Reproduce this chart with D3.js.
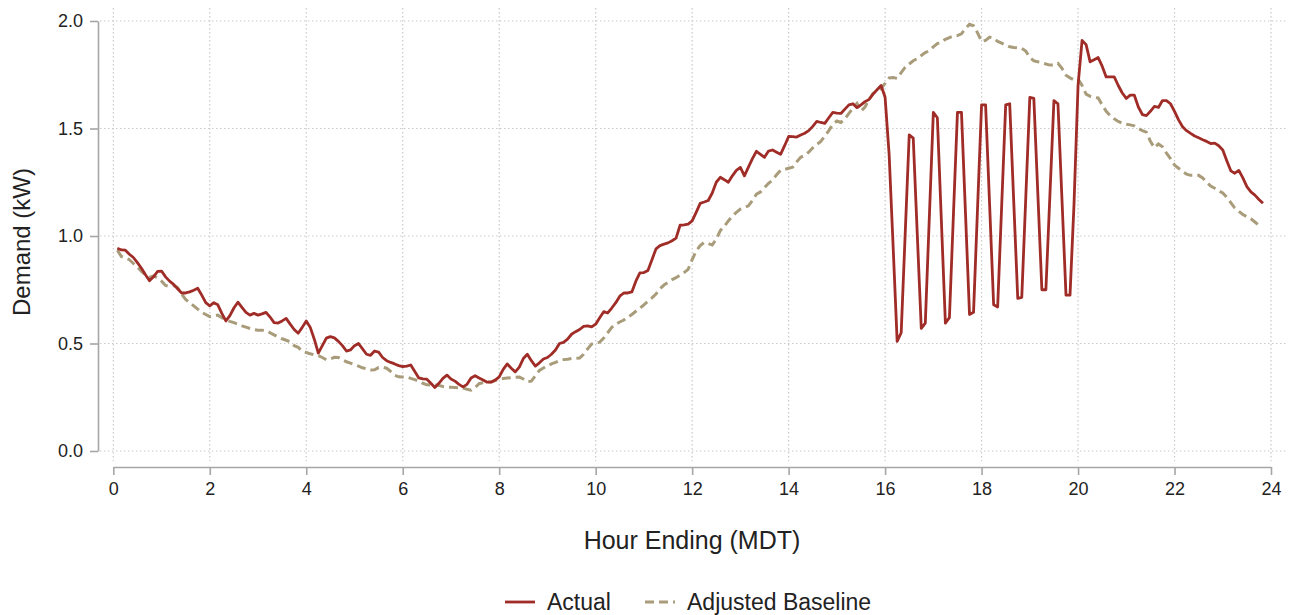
<!DOCTYPE html>
<html>
<head>
<meta charset="utf-8">
<script src="https://cdn.jsdelivr.net/npm/d3@7.9.0/dist/d3.min.js"></script>
<style>
  body { margin: 0; background: #fff; }
  svg text { font-family: "Liberation Sans", Arial, sans-serif; fill: #222; }
</style>
</head>
<body>
<svg id="chart" width="1291" height="615"></svg>
<script>
// 5-minute interval readings, hour ending 00:05 onwards (one row per hour)
const actual = [
  0.943, 0.935, 0.934, 0.915, 0.90, 0.876, 0.85, 0.82, 0.792, 0.81, 0.835, 0.837,
  0.81, 0.79, 0.775, 0.755, 0.735, 0.735, 0.74, 0.748, 0.757, 0.725, 0.69, 0.675,
  0.69, 0.68, 0.64, 0.605, 0.63, 0.665, 0.692, 0.668, 0.645, 0.632, 0.64, 0.632,
  0.638, 0.645, 0.623, 0.597, 0.595, 0.605, 0.617, 0.59, 0.565, 0.548, 0.575, 0.605,
  0.575, 0.52, 0.455, 0.49, 0.525, 0.532, 0.526, 0.51, 0.49, 0.465, 0.47, 0.49,
  0.50, 0.475, 0.45, 0.445, 0.465, 0.46, 0.435, 0.42, 0.412, 0.405, 0.397, 0.392,
  0.395, 0.40, 0.37, 0.34, 0.335, 0.334, 0.315, 0.295, 0.315, 0.338, 0.353, 0.335,
  0.325, 0.31, 0.298, 0.31, 0.34, 0.35, 0.34, 0.33, 0.32, 0.32, 0.33, 0.345,
  0.38, 0.405, 0.385, 0.368, 0.39, 0.43, 0.45, 0.42, 0.395, 0.41, 0.428, 0.435,
  0.45, 0.47, 0.50, 0.505, 0.52, 0.543, 0.555, 0.565, 0.58, 0.582, 0.577, 0.59,
  0.62, 0.648, 0.642, 0.665, 0.69, 0.72, 0.735, 0.735, 0.74, 0.79, 0.828, 0.83,
  0.84, 0.89, 0.94, 0.955, 0.962, 0.968, 0.978, 0.99, 1.05, 1.052, 1.055, 1.07,
  1.11, 1.152, 1.158, 1.165, 1.20, 1.25, 1.273, 1.262, 1.25, 1.28, 1.305, 1.319,
  1.28, 1.32, 1.36, 1.394, 1.38, 1.366, 1.395, 1.40, 1.39, 1.38, 1.42, 1.463,
  1.462, 1.46, 1.47, 1.478, 1.49, 1.51, 1.533, 1.528, 1.524, 1.55, 1.575, 1.572,
  1.57, 1.59, 1.61, 1.615, 1.597, 1.61, 1.625, 1.635, 1.66, 1.68, 1.70, 1.645,
  1.38, 0.95, 0.51, 0.55, 1.01, 1.47, 1.455, 1.01, 0.57, 0.595, 1.085, 1.575,
  1.55, 1.07, 0.595, 0.62, 1.10, 1.575, 1.575, 1.105, 0.635, 0.645, 1.13, 1.61,
  1.61, 1.145, 0.68, 0.67, 1.14, 1.61, 1.615, 1.16, 0.71, 0.715, 1.18, 1.645,
  1.64, 1.195, 0.75, 0.75, 1.19, 1.63, 1.615, 1.17, 0.725, 0.725, 1.15, 1.70,
  1.91, 1.89, 1.81, 1.82, 1.83, 1.79, 1.74, 1.74, 1.74, 1.70, 1.665, 1.64,
  1.655, 1.655, 1.60, 1.565, 1.56, 1.58, 1.603, 1.598, 1.63, 1.63, 1.615, 1.58,
  1.54, 1.508, 1.49, 1.477, 1.465, 1.457, 1.448, 1.44, 1.43, 1.432, 1.42, 1.40,
  1.35, 1.303, 1.292, 1.305, 1.27, 1.23, 1.205, 1.19, 1.17, 1.152
];

const baseline = [
  0.934, 0.905, 0.898, 0.89, 0.872, 0.855, 0.835, 0.82, 0.808, 0.815, 0.805, 0.79,
  0.77, 0.765, 0.77, 0.76, 0.73, 0.705, 0.69, 0.675, 0.66, 0.645, 0.635, 0.625,
  0.628, 0.632, 0.62, 0.61, 0.603, 0.597, 0.59, 0.582, 0.576, 0.57, 0.565, 0.562,
  0.562, 0.56, 0.55, 0.54, 0.53, 0.522, 0.515, 0.508, 0.49, 0.482, 0.465, 0.458,
  0.452, 0.447, 0.444, 0.435, 0.424, 0.428, 0.436, 0.435, 0.425, 0.415, 0.409, 0.402,
  0.395, 0.387, 0.382, 0.377, 0.378, 0.388, 0.39, 0.385, 0.37, 0.352, 0.345, 0.344,
  0.344, 0.338, 0.332, 0.325, 0.315, 0.308, 0.307, 0.307, 0.305, 0.30, 0.297, 0.296,
  0.295, 0.294, 0.293, 0.287, 0.283, 0.295, 0.313, 0.318, 0.32, 0.322, 0.328, 0.333,
  0.337, 0.339, 0.341, 0.343, 0.344, 0.335, 0.322, 0.325, 0.35, 0.375, 0.386, 0.397,
  0.405, 0.412, 0.42, 0.425, 0.427, 0.43, 0.431, 0.432, 0.45, 0.475, 0.497, 0.503,
  0.506, 0.525, 0.55, 0.575, 0.59, 0.60, 0.609, 0.623, 0.635, 0.65, 0.664, 0.68,
  0.697, 0.712, 0.73, 0.755, 0.772, 0.785, 0.797, 0.806, 0.818, 0.83, 0.845, 0.89,
  0.93, 0.955, 0.97, 0.965, 0.958, 0.985, 1.025, 1.045, 1.07, 1.093, 1.11, 1.125,
  1.132, 1.14, 1.165, 1.195, 1.205, 1.225, 1.245, 1.26, 1.285, 1.305, 1.31, 1.315,
  1.32, 1.345, 1.366, 1.375, 1.39, 1.41, 1.425, 1.44, 1.465, 1.49, 1.52, 1.535,
  1.528, 1.545, 1.57, 1.595, 1.617, 1.58, 1.60, 1.635, 1.663, 1.675, 1.686, 1.71,
  1.735, 1.737, 1.733, 1.76, 1.785, 1.80, 1.815, 1.825, 1.84, 1.853, 1.862, 1.88,
  1.895, 1.903, 1.915, 1.923, 1.93, 1.932, 1.94, 1.965, 1.985, 1.978, 1.945, 1.905,
  1.91, 1.925, 1.92, 1.905, 1.897, 1.887, 1.88, 1.877, 1.875, 1.872, 1.86, 1.83,
  1.815, 1.81, 1.807, 1.80, 1.795, 1.795, 1.803, 1.78, 1.748, 1.735, 1.726, 1.73,
  1.70, 1.66, 1.65, 1.645, 1.642, 1.61, 1.58, 1.56, 1.545, 1.533, 1.525, 1.52,
  1.517, 1.512, 1.50, 1.49, 1.483, 1.44, 1.41, 1.428, 1.415, 1.385, 1.36, 1.33,
  1.315, 1.30, 1.288, 1.282, 1.282, 1.282, 1.27, 1.25, 1.232, 1.222, 1.21, 1.20,
  1.18, 1.155, 1.13, 1.115, 1.10, 1.09, 1.08, 1.065, 1.05
];

const xTicks = [0, 2, 4, 6, 8, 10, 12, 14, 16, 18, 20, 22, 24];
const yTicks = [0, 0.5, 1.0, 1.5, 2.0];
const seriesNames = ['Actual', 'Adjusted Baseline'];
const xTitle = 'Hour Ending (MDT)';
const yTitle = 'Demand (kW)';
const stepHours = 5 / 60;

const svg = d3.select('#chart');

const x = d3.scaleLinear().domain([0, 24]).range([113.3, 1271]);
const y = d3.scaleLinear().domain([0, 2]).range([451, 21]);

// dotted grid
const grid = svg.append('g').attr('stroke', '#c9c9c9').attr('stroke-width', 1.2)
  .attr('stroke-dasharray', '1.4,2.6');
grid.selectAll('line.v').data(xTicks).join('line')
  .attr('class', 'v')
  .attr('x1', (d) => x(d)).attr('x2', (d) => x(d))
  .attr('y1', 8).attr('y2', 461);
grid.selectAll('line.h').data(yTicks).join('line')
  .attr('class', 'h')
  .attr('x1', 100).attr('x2', 1286)
  .attr('y1', (d) => y(d)).attr('y2', (d) => y(d));

// axes
const xAxis = svg.append('g')
  .attr('transform', 'translate(0,467)')
  .call(d3.axisBottom(x).tickValues(xTicks).tickFormat(d3.format('d')).tickSize(8).tickSizeOuter(0).tickPadding(7));
const yAxis = svg.append('g')
  .attr('transform', 'translate(98,0)')
  .call(d3.axisLeft(y).tickValues(yTicks).tickFormat(d3.format('.1f')).tickSize(8).tickSizeOuter(0).tickPadding(7));

[xAxis, yAxis].forEach((g) => {
  g.select('.domain').attr('stroke', '#a6a6a6').attr('stroke-width', 1.6);
  g.selectAll('.tick line').attr('stroke', '#a6a6a6').attr('stroke-width', 1.6);
  g.selectAll('.tick text').attr('font-size', 18).attr('fill', '#222')
    .attr('font-family', '"Liberation Sans", Arial, sans-serif');
});

svg.append('text')
  .attr('x', 692).attr('y', 549)
  .attr('text-anchor', 'middle')
  .attr('font-size', 25).attr('fill', '#333')
  .text(xTitle);

svg.append('text')
  .attr('transform', 'translate(30,242) rotate(-90)')
  .attr('text-anchor', 'middle')
  .attr('font-size', 24).attr('fill', '#333')
  .text(yTitle);

// series
const line = d3.line()
  .x((d, i) => x((i + 1) * stepHours))
  .y((d) => y(d));

const seriesStyle = {
  Actual: { color: '#a02c27', width: 2.8, dash: null },
  'Adjusted Baseline': { color: '#a99c7a', width: 3, dash: '9,5' },
};

svg.append('path')
  .datum(baseline)
  .attr('fill', 'none')
  .attr('stroke', seriesStyle['Adjusted Baseline'].color)
  .attr('stroke-width', seriesStyle['Adjusted Baseline'].width)
  .attr('stroke-dasharray', seriesStyle['Adjusted Baseline'].dash)
  .attr('d', line);

svg.append('path')
  .datum(actual)
  .attr('fill', 'none')
  .attr('stroke', seriesStyle.Actual.color)
  .attr('stroke-width', seriesStyle.Actual.width)
  .attr('stroke-linejoin', 'round')
  .attr('d', line);

// legend
const legendX = [505, 645];
const legend = svg.append('g');
seriesNames.forEach((name, idx) => {
  const st = seriesStyle[name];
  legend.append('line')
    .attr('x1', legendX[idx]).attr('x2', legendX[idx] + 30)
    .attr('y1', 602).attr('y2', 602)
    .attr('stroke', st.color)
    .attr('stroke-width', st.width)
    .attr('stroke-dasharray', st.dash);
  legend.append('text')
    .attr('x', legendX[idx] + 42).attr('y', 610)
    .attr('font-size', 23).attr('fill', '#222')
    .text(name);
});
</script>
</body>
</html>
